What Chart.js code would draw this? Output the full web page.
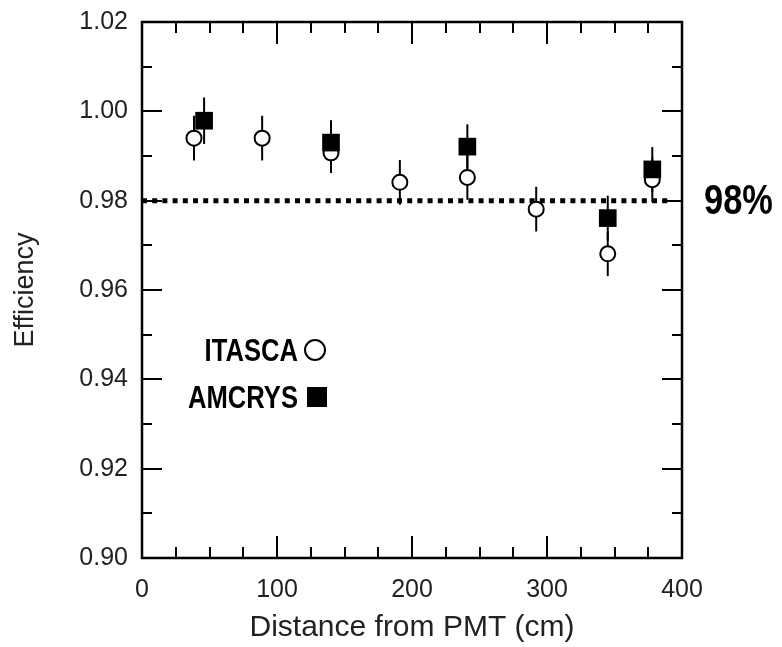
<!DOCTYPE html>
<html>
<head>
<meta charset="utf-8">
<script src="https://cdn.jsdelivr.net/npm/chart.js@4.4.1/dist/chart.umd.min.js"></script>
<style>
html,body{margin:0;padding:0;background:#fff;}
canvas{display:block;}
</style>
</head>
<body>
<canvas id="c" width="782" height="647"></canvas>
<script>
// ---- data ----
const itascaX   = [38.5, 89, 140, 191, 241, 292, 345, 378];
const itascaY   = [0.9940, 0.9940, 0.9907, 0.9841, 0.9852, 0.9781, 0.9681, 0.9847];
const itascaErr = [0.005, 0.005, 0.0045, 0.005, 0.005, 0.005, 0.005, 0.005];

const amcrysX   = [46, 140, 241, 345, 378];
const amcrysY   = [0.9979, 0.9930, 0.9921, 0.9761, 0.9870];
const amcrysErr = [0.0052, 0.005, 0.005, 0.005, 0.005];

const thresholdX = [0, 391];
const thresholdY = [0.98, 0.98];
const thresholdLabel = '98%';

const xTickValues = [0, 100, 200, 300, 400];
const yTickValues = [0.90, 0.92, 0.94, 0.96, 0.98, 1.00, 1.02];
const xTitle = 'Distance from PMT (cm)';
const yTitle = 'Efficiency';
const seriesNames = ['ITASCA', 'AMCRYS'];

const FONT = "'Liberation Sans', Arial, Helvetica, sans-serif";

function pts(xs, ys) { return xs.map((v, i) => ({x: v, y: ys[i]})); }

function narrowText(ctx, text, x, y, size, align) {
  ctx.save();
  ctx.font = 'bold ' + size + 'px ' + FONT;
  ctx.textBaseline = 'alphabetic';
  ctx.textAlign = 'left';
  ctx.fillStyle = '#000';
  const sx = 0.8;
  const w = ctx.measureText(text).width * sx;
  const lx = align === 'right' ? x - w : x;
  ctx.translate(lx, y);
  ctx.scale(sx, 1);
  ctx.fillText(text, 0, 0);
  ctx.restore();
}

const decor = {
  id: 'decor',
  beforeDatasetsDraw(chart) {
    const {ctx, scales: {x, y}} = chart;
    ctx.save();
    ctx.strokeStyle = '#000';
    ctx.lineWidth = 2;
    chart.data.datasets.forEach(ds => {
      if (!ds.errors) return;
      ds.data.forEach((p, i) => {
        const px = x.getPixelForValue(p.x);
        ctx.beginPath();
        ctx.moveTo(px, y.getPixelForValue(p.y + ds.errors[i]));
        ctx.lineTo(px, y.getPixelForValue(p.y - ds.errors[i]));
        ctx.stroke();
      });
    });
    ctx.restore();
  },
  afterDraw(chart) {
    const {ctx, chartArea: a, scales: {x, y}} = chart;
    ctx.save();
    ctx.strokeStyle = '#000';
    // inward ticks
    ctx.lineWidth = 2;
    ctx.beginPath();
    for (let v = x.min; v <= x.max + 1e-9; v += 25) {
      const px = Math.round(x.getPixelForValue(v));
      const len = (Math.round(v) % 100 === 0) ? 22 : 11;
      ctx.moveTo(px, a.bottom); ctx.lineTo(px, a.bottom - len);
      ctx.moveTo(px, a.top); ctx.lineTo(px, a.top + len);
    }
    for (let k = 0; k <= 12; k++) {
      const v = y.min + k * 0.01;
      const py = Math.round(y.getPixelForValue(v));
      const len = (k % 2 === 0) ? 20 : 10;
      ctx.moveTo(a.left, py); ctx.lineTo(a.left + len, py);
      ctx.moveTo(a.right, py); ctx.lineTo(a.right - len, py);
    }
    ctx.stroke();
    // frame
    ctx.lineWidth = 2.5;
    ctx.strokeRect(a.left, a.top, a.right - a.left, a.bottom - a.top);
    ctx.restore();

    // threshold label
    narrowText(ctx, thresholdLabel, a.right + 22, y.getPixelForValue(thresholdY[0]) + 13, 43, 'left');

    // legend
    const lx = a.left + 156;
    narrowText(ctx, seriesNames[0], lx, 361, 32, 'right');
    narrowText(ctx, seriesNames[1], lx, 408, 32, 'right');
    ctx.save();
    ctx.lineWidth = 2;
    ctx.strokeStyle = '#000';
    ctx.fillStyle = '#fff';
    ctx.beginPath();
    ctx.arc(lx + 17, 350, 10, 0, Math.PI * 2);
    ctx.fill(); ctx.stroke();
    ctx.fillStyle = '#000';
    ctx.fillRect(lx + 9, 387, 20, 20);
    ctx.restore();
  }
};

new Chart(document.getElementById('c'), {
  type: 'scatter',
  data: {
    datasets: [
      {
        label: seriesNames[1],
        data: pts(amcrysX, amcrysY),
        errors: amcrysErr,
        pointStyle: 'rect',
        pointRadius: 12.5,
        pointBackgroundColor: '#000',
        pointBorderColor: '#000',
        pointBorderWidth: 0,
        order: 1
      },
      {
        label: seriesNames[0],
        data: pts(itascaX, itascaY),
        errors: itascaErr,
        pointStyle: 'circle',
        pointRadius: 7.5,
        pointBackgroundColor: '#fff',
        pointBorderColor: '#000',
        pointBorderWidth: 2,
        order: 2
      },
      {
        type: 'line',
        label: 'threshold',
        data: pts(thresholdX, thresholdY),
        borderColor: '#000',
        borderWidth: 5,
        borderDash: [5, 5.2],
        borderCapStyle: 'butt',
        pointRadius: 0,
        showLine: true,
        fill: false,
        order: 3
      }
    ]
  },
  options: {
    responsive: false,
    animation: false,
    events: [],
    layout: {padding: {left: 0, right: 100, top: 22, bottom: 0}},
    plugins: {legend: {display: false}, tooltip: {enabled: false}},
    scales: {
      x: {
        type: 'linear',
        min: 0, max: 400,
        afterBuildTicks: s => { s.ticks = xTickValues.map(v => ({value: v})); },
        afterFit: s => { s.height = 89; s.paddingLeft = 0; s.paddingRight = 0; },
        grid: {display: false, drawTicks: false},
        border: {display: false},
        ticks: {
          color: '#222', padding: 17,
          font: {family: FONT, size: 25},
          maxRotation: 0, autoSkip: false,
          callback: v => String(v)
        },
        title: {
          display: true, text: xTitle, color: '#222',
          font: {family: FONT, size: 30},
          padding: {top: 0, bottom: 1}
        }
      },
      y: {
        type: 'linear',
        min: 0.90, max: 1.02,
        afterBuildTicks: s => { s.ticks = yTickValues.map(v => ({value: v})); },
        afterFit: s => { s.width = 142; s.paddingTop = 0; s.paddingBottom = 0; },
        grid: {display: false, drawTicks: false},
        border: {display: false},
        ticks: {
          color: '#222', padding: 14,
          font: {family: FONT, size: 25},
          autoSkip: false,
          callback: v => Number(v).toFixed(2)
        },
        title: {
          display: true, text: yTitle, color: '#222',
          font: {family: FONT, size: 27},
          padding: {top: 9, bottom: 0}
        }
      }
    }
  },
  plugins: [decor]
});
</script>
</body>
</html>
